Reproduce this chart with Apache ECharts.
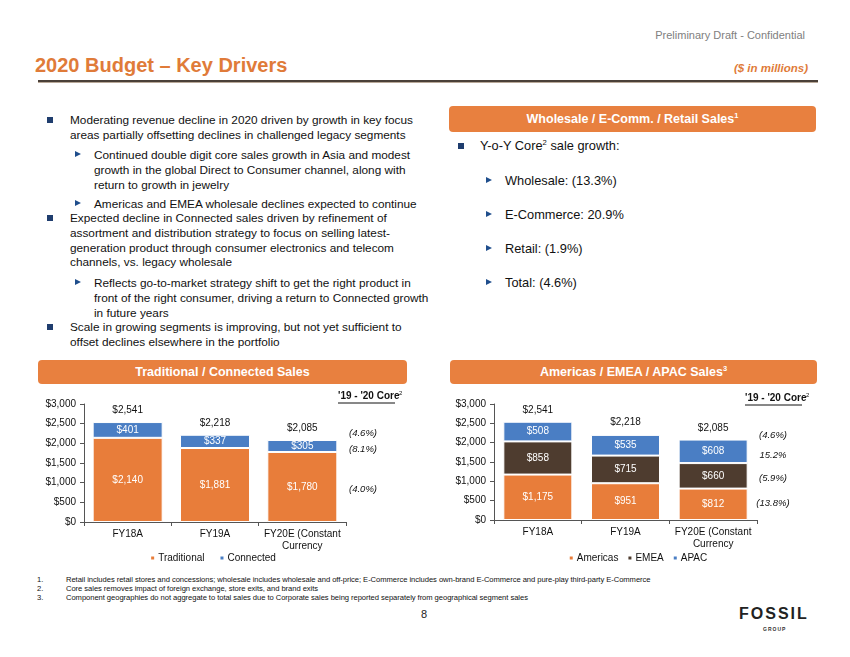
<!DOCTYPE html>
<html><head><meta charset="utf-8">
<script src="https://cdn.jsdelivr.net/npm/echarts@6/dist/echarts.min.js"></script>
<style>
html,body{margin:0;padding:0;width:850px;height:657px;background:#fff;overflow:hidden;font-family:"Liberation Sans",Arial,sans-serif;}
.abs{position:absolute;white-space:nowrap;}
.txt{font-size:11.8px;color:#111;line-height:14.8px;}
.sq{position:absolute;width:6px;height:6px;background:#1F3D6E;}
.tri{position:absolute;width:0;height:0;border-top:3.5px solid transparent;border-bottom:3.5px solid transparent;border-left:6px solid #1F4E8C;}
.hdr{position:absolute;background:#E8803F;border-radius:4px;color:#fff;font-weight:bold;font-size:12.5px;text-align:center;}
sup{font-size:0.6em;line-height:0;}
</style></head>
<body>
<div class="abs" style="right:45px;top:29px;font-size:11px;color:#808080;">Preliminary Draft - Confidential</div>
<div class="abs" style="left:35px;top:54px;font-size:20px;font-weight:bold;color:#E07B39;">2020 Budget – Key Drivers</div>
<div class="abs" style="right:42px;top:62px;font-size:11.5px;font-weight:bold;font-style:italic;color:#E07B39;">($ in millions)</div>
<div style="position:absolute;left:38px;top:80px;width:780px;height:2px;background:#4A4038;"></div>
<div style="position:absolute;left:38px;top:82px;width:780px;height:1px;background:#B8A898;"></div>

<!-- left bullets -->
<div class="sq" style="left:47px;top:117px;"></div>
<div class="abs txt" style="left:70px;top:113px;">Moderating revenue decline in 2020 driven by growth in key focus<br>areas partially offsetting declines in challenged legacy segments</div>
<div class="tri" style="left:75px;top:151px;"></div>
<div class="abs txt" style="left:94px;top:148px;">Continued double digit core sales growth in Asia and modest<br>growth in the global Direct to Consumer channel, along with<br>return to growth in jewelry</div>
<div class="tri" style="left:75px;top:200px;"></div>
<div class="abs txt" style="left:94px;top:197px;">Americas and EMEA wholesale declines expected to continue</div>
<div class="sq" style="left:47px;top:215px;"></div>
<div class="abs txt" style="left:70px;top:211px;">Expected decline in Connected sales driven by refinement of<br>assortment and distribution strategy to focus on selling latest-<br>generation product through consumer electronics and telecom<br>channels, vs. legacy wholesale</div>
<div class="tri" style="left:75px;top:279px;"></div>
<div class="abs txt" style="left:94px;top:276px;">Reflects go-to-market strategy shift to get the right product in<br>front of the right consumer, driving a return to Connected growth<br>in future years</div>
<div class="sq" style="left:47px;top:324px;"></div>
<div class="abs txt" style="left:70px;top:320px;">Scale in growing segments is improving, but not yet sufficient to<br>offset declines elsewhere in the portfolio</div>

<!-- right panel -->
<div class="hdr" style="left:449px;top:106px;width:367px;height:26px;line-height:26px;">Wholesale / E-Comm. / Retail Sales<sup>1</sup></div>
<div class="sq" style="left:458px;top:143px;"></div>
<div class="abs" style="left:480px;top:138px;font-size:12.8px;color:#111;">Y-o-Y Core<sup>2</sup> sale growth:</div>
<div class="tri" style="left:486px;top:177px;"></div>
<div class="abs" style="left:505px;top:173px;font-size:12.8px;color:#111;">Wholesale: (13.3%)</div>
<div class="tri" style="left:486px;top:211px;"></div>
<div class="abs" style="left:505px;top:207px;font-size:12.8px;color:#111;">E-Commerce: 20.9%</div>
<div class="tri" style="left:486px;top:245px;"></div>
<div class="abs" style="left:505px;top:241px;font-size:12.8px;color:#111;">Retail: (1.9%)</div>
<div class="tri" style="left:486px;top:279px;"></div>
<div class="abs" style="left:505px;top:275px;font-size:12.8px;color:#111;">Total: (4.6%)</div>

<div class="hdr" style="left:38px;top:360px;width:369px;height:24px;line-height:24px;">Traditional / Connected Sales</div>
<div class="hdr" style="left:450px;top:360px;width:367px;height:24px;line-height:24px;">Americas / EMEA / APAC Sales<sup>3</sup></div>

<div id="c1" style="position:absolute;left:0;top:385px;width:425px;height:185px;"></div>
<div id="c2" style="position:absolute;left:425px;top:385px;width:425px;height:185px;"></div>

<!-- footnotes -->
<div class="abs" style="left:37px;top:575px;font-size:7.6px;color:#111;line-height:9px;">1.<br>2.<br>3.</div>
<div class="abs" style="left:66px;top:575px;font-size:7.6px;color:#111;line-height:9px;letter-spacing:-0.05px;">Retail includes retail stores and concessions; wholesale includes wholesale and off-price; E-Commerce includes own-brand E-Commerce and pure-play third-party E-Commerce<br>Core sales removes impact of foreign exchange, store exits, and brand exits<br>Component geographies do not aggregate to total sales due to Corporate sales being reported separately from geographical segment sales</div>
<div class="abs" style="left:421px;top:608px;font-size:11px;color:#222;">8</div>
<div class="abs" style="left:739px;top:605px;font-size:16px;font-weight:bold;color:#222;letter-spacing:2px;">FOSSIL</div>
<div class="abs" style="left:763px;top:626px;font-size:5px;font-weight:bold;color:#333;letter-spacing:1px;">GROUP</div>

<script>
var categories = ['FY18A', 'FY19A', 'FY20E (Constant\nCurrency'];
var traditional = [2140, 1881, 1780];
var connected = [401, 337, 305];
var totals = [2541, 2218, 2085];
var americas = [1175, 951, 812];
var emea = [858, 715, 660];
var apac = [508, 535, 608];
var growthLeft = ['(4.6%)', '(8.1%)', '(4.0%)'];
var growthRight = ['(4.6%)', '15.2%', '(5.9%)', '(13.8%)'];
var yTicks = {min: 0, max: 3000, interval: 500};

var ORANGE = '#E87D3A', BLUE = '#4A7EC4', BROWN = '#4E3C2F';
var FONT = 'Liberation Sans';

function money(v){ return '$' + String(v).replace(/\B(?=(\d{3})+(?!\d))/g, ','); }

function baseOpt(gridLeft, gridTop, gridW, gridH, gap){
  return {
    animation: false,
    textStyle: {fontFamily: FONT},
    grid: {left: gridLeft, top: gridTop, width: gridW, height: gridH},
    xAxis: {
      type: 'category', data: categories,
      axisLine: {lineStyle: {color: '#555', width: 1}},
      axisTick: {show: true, length: 4, lineStyle: {color: '#555'}},
      axisLabel: {color: '#111', fontSize: 10, lineHeight: 12, margin: 6, interval: 0, fontFamily: FONT}
    },
    yAxis: {
      type: 'value', min: yTicks.min, max: yTicks.max, interval: yTicks.interval,
      splitLine: {show: false},
      axisLine: {show: true, lineStyle: {color: '#555', width: 1}},
      axisTick: {show: true, length: 4, lineStyle: {color: '#555'}},
      axisLabel: {color: '#111', fontSize: 10, margin: 8, fontFamily: FONT, formatter: money}
    },
    legend: {
      bottom: 2, left: 'center', itemWidth: 5, itemHeight: 5, itemGap: gap, icon: 'rect',
      textStyle: {fontSize: 10, color: '#111', fontFamily: FONT, padding: [0,0,0,-2]}
    }
  };
}

function segLabel(){ return {show: true, position: 'inside', color: '#fff', fontSize: 10, fontFamily: FONT, formatter: function(p){return money(p.value);}}; }
function totalSeries(){
  return {name: 'Total', type: 'line', data: totals, symbol: 'circle', symbolSize: 1, showSymbol: true,
    itemStyle: {color: 'rgba(0,0,0,0)'}, lineStyle: {width: 0, opacity: 0}, silent: true, z: 10,
    label: {show: true, position: 'top', distance: 6, color: '#111', fontSize: 10, fontFamily: FONT, formatter: function(p){return money(p.value);}}};
}

// Left chart
var c1 = echarts.init(document.getElementById('c1'));
var o1 = baseOpt(84, 19, 262, 118, 14);
o1.legend.data = ['Traditional', 'Connected'];
o1.series = [
  {name: 'Traditional', type: 'bar', stack: 's', data: traditional, barWidth: 70, itemStyle: {color: ORANGE, borderColor: '#fff', borderWidth: 1}, label: segLabel()},
  {name: 'Connected', type: 'bar', stack: 's', data: connected, barWidth: 70, itemStyle: {color: BLUE, borderColor: '#fff', borderWidth: 1}, label: segLabel()},
  totalSeries()
];
o1.graphic = [
  {type: 'text', left: 338, top: 6, style: {text: "'19 - '20 Core", font: 'bold 10px ' + FONT, fill: '#111'}},
  {type: 'line', shape: {x1: 338, y1: 18, x2: 395, y2: 18}, style: {stroke: '#111', lineWidth: 1}},
  {type: 'text', left: 399, top: 5, style: {text: '2', font: '6px ' + FONT, fill: '#111'}},
  {type: 'text', x: 363, y: 48, style: {text: growthLeft[0], font: 'italic 9.5px ' + FONT, fill: '#111', align: 'center', verticalAlign: 'middle'}},
  {type: 'text', x: 363, y: 64, style: {text: growthLeft[1], font: 'italic 9.5px ' + FONT, fill: '#111', align: 'center', verticalAlign: 'middle'}},
  {type: 'text', x: 363, y: 104, style: {text: growthLeft[2], font: 'italic 9.5px ' + FONT, fill: '#111', align: 'center', verticalAlign: 'middle'}}
];
c1.setOption(o1);

// Right chart
var c2 = echarts.init(document.getElementById('c2'));
var o2 = baseOpt(69, 19, 263, 116, 8);
o2.legend.data = ['Americas', 'EMEA', 'APAC'];
o2.series = [
  {name: 'Americas', type: 'bar', stack: 's', data: americas, barWidth: 69, itemStyle: {color: ORANGE, borderColor: '#fff', borderWidth: 1}, label: segLabel()},
  {name: 'EMEA', type: 'bar', stack: 's', data: emea, barWidth: 69, itemStyle: {color: BROWN, borderColor: '#fff', borderWidth: 1}, label: segLabel()},
  {name: 'APAC', type: 'bar', stack: 's', data: apac, barWidth: 69, itemStyle: {color: BLUE, borderColor: '#fff', borderWidth: 1}, label: segLabel()},
  totalSeries()
];
o2.graphic = [
  {type: 'text', left: 320, top: 8, style: {text: "'19 - '20 Core", font: 'bold 10px ' + FONT, fill: '#111'}},
  {type: 'line', shape: {x1: 320, y1: 20, x2: 377, y2: 20}, style: {stroke: '#111', lineWidth: 1}},
  {type: 'text', left: 381, top: 7, style: {text: '2', font: '6px ' + FONT, fill: '#111'}},
  {type: 'text', x: 348, y: 50, style: {text: growthRight[0], font: 'italic 9.5px ' + FONT, fill: '#111', align: 'center', verticalAlign: 'middle'}},
  {type: 'text', x: 348, y: 70, style: {text: growthRight[1], font: 'italic 9.5px ' + FONT, fill: '#111', align: 'center', verticalAlign: 'middle'}},
  {type: 'text', x: 348, y: 93, style: {text: growthRight[2], font: 'italic 9.5px ' + FONT, fill: '#111', align: 'center', verticalAlign: 'middle'}},
  {type: 'text', x: 348, y: 118, style: {text: growthRight[3], font: 'italic 9.5px ' + FONT, fill: '#111', align: 'center', verticalAlign: 'middle'}}
];
c2.setOption(o2);
</script>
</body></html>
